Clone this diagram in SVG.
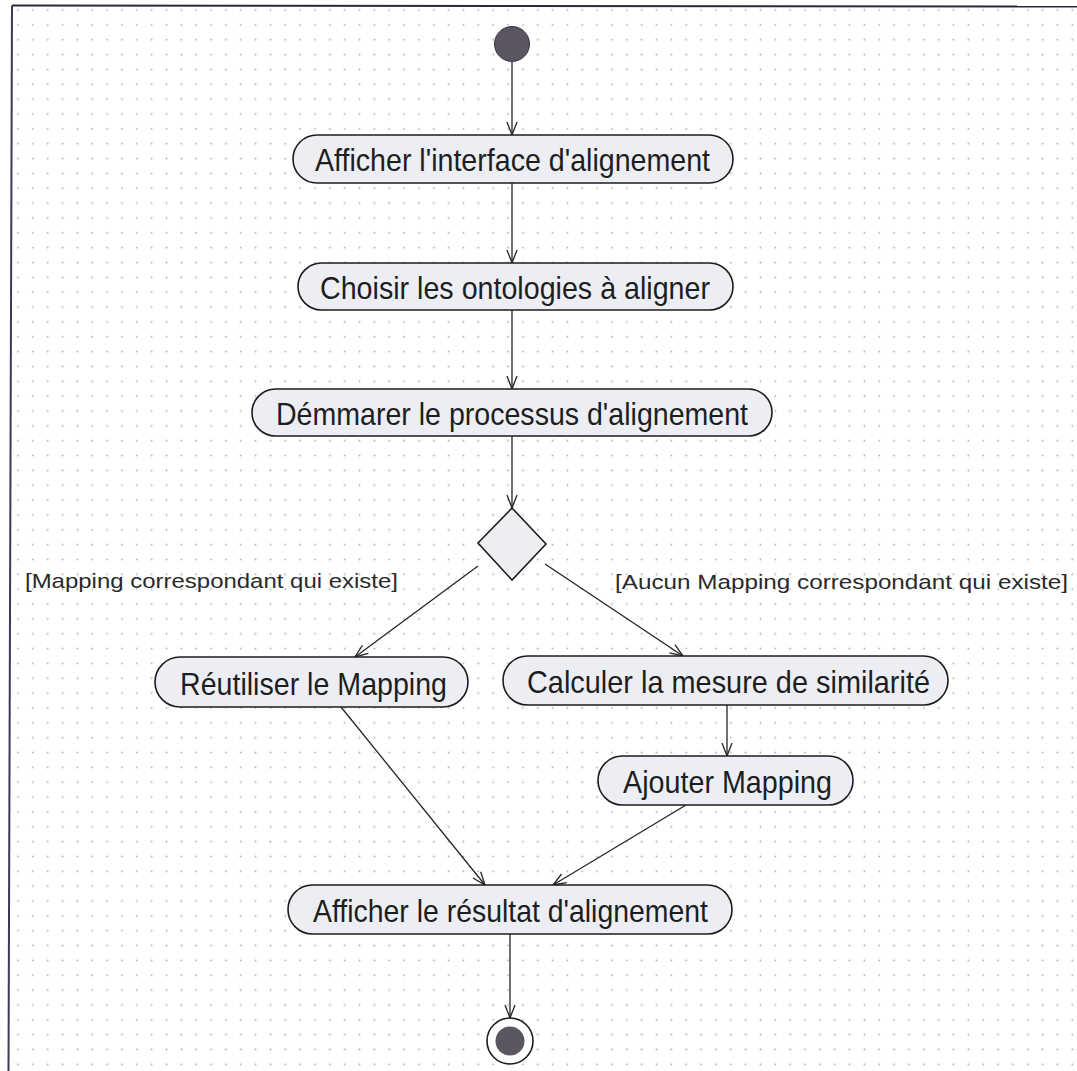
<svg xmlns="http://www.w3.org/2000/svg" width="1077" height="1071" viewBox="0 0 1077 1071">
  <defs>
    <pattern id="grid" patternUnits="userSpaceOnUse" x="10.6" y="2.6" width="14.85" height="14.85">
      <circle cx="7.4" cy="7.4" r="0.95" fill="#afafb8"/>
    </pattern>
    <marker id="open" viewBox="0 0 14 12" refX="13.5" refY="6" markerWidth="14" markerHeight="12" markerUnits="userSpaceOnUse" orient="auto">
      <path d="M0.5,1 L13.5,6 L0.5,11" fill="none" stroke="#2a2222" stroke-width="1.3"/>
    </marker>
    <style>
      .act { fill: #eceef4; stroke: #1c1c1c; stroke-width: 1.6; }
      .lbl { font-family: "Liberation Sans", Arial, sans-serif; font-size: 32px; fill: #1e1e1e; text-anchor: middle; }
      .guard { font-family: "Liberation Sans", Arial, sans-serif; font-size: 21px; fill: #2a2a2a; }
      .flow { fill: none; stroke: #2a2222; stroke-width: 1.3; marker-end: url(#open); }
    </style>
  </defs>

  <!-- canvas with dotted grid and frame -->
  <rect x="0" y="0" width="1077" height="1071" fill="#ffffff"/>
  <rect x="12" y="6" width="1065" height="1064" fill="url(#grid)"/>
  <line x1="12" y1="5.5" x2="1077" y2="6.5" stroke="#2a2a3a" stroke-width="2"/>
  <line x1="12" y1="5.5" x2="8.5" y2="1071" stroke="#3a3a5a" stroke-width="2"/>

  <!-- control flows -->
  <g id="connectors">
    <line class="flow" x1="512" y1="62" x2="512" y2="135"/>
    <line class="flow" x1="512" y1="183" x2="512" y2="263"/>
    <line class="flow" x1="512" y1="310" x2="512" y2="389"/>
    <line class="flow" x1="512" y1="436" x2="512" y2="508"/>
    <line class="flow" x1="478" y1="566" x2="355" y2="657"/>
    <line class="flow" x1="545" y1="564" x2="683" y2="656"/>
    <line class="flow" x1="727" y1="705" x2="727" y2="756"/>
    <line class="flow" x1="341" y1="707" x2="485" y2="885"/>
    <line class="flow" x1="686" y1="805" x2="553" y2="885"/>
    <line class="flow" x1="510" y1="934" x2="510" y2="1018"/>
  </g>

  <g id="start">
    <circle cx="512" cy="44" r="17.5" fill="#5a5560" stroke="#3a3540" stroke-width="1"/>
  </g>

  <g id="afficher-interface">
    <rect class="act" x="293" y="135" width="440" height="48" rx="24" ry="24"/>
    <text class="lbl" x="512.5" y="171" textLength="395" lengthAdjust="spacingAndGlyphs">Afficher l'interface d'alignement</text>
  </g>

  <g id="choisir-ontologies">
    <rect class="act" x="298" y="263" width="435" height="47" rx="23.5" ry="23.5"/>
    <text class="lbl" x="515" y="298.5" textLength="390" lengthAdjust="spacingAndGlyphs">Choisir les ontologies à aligner</text>
  </g>

  <g id="demarrer-processus">
    <rect class="act" x="252" y="389" width="520" height="47" rx="23.5" ry="23.5"/>
    <text class="lbl" x="512" y="424.5" textLength="472" lengthAdjust="spacingAndGlyphs">Démmarer le processus d'alignement</text>
  </g>

  <g id="decision">
    <polygon class="act" points="512,508 546,544 512,580 478,543"/>
  </g>

  <g id="guards">
    <text class="guard" x="25" y="588" textLength="373" lengthAdjust="spacingAndGlyphs">[Mapping correspondant qui existe]</text>
    <text class="guard" x="615" y="589" textLength="453" lengthAdjust="spacingAndGlyphs">[Aucun Mapping correspondant qui existe]</text>
  </g>

  <g id="reutiliser-mapping">
    <rect class="act" x="155" y="657" width="313" height="50" rx="25" ry="25"/>
    <text class="lbl" x="313.5" y="694.5" textLength="267" lengthAdjust="spacingAndGlyphs">Réutiliser le Mapping</text>
  </g>

  <g id="calculer-similarite">
    <rect class="act" x="503" y="656" width="445" height="49" rx="24.5" ry="24.5"/>
    <text class="lbl" x="728.5" y="693" textLength="403" lengthAdjust="spacingAndGlyphs">Calculer la mesure de similarité</text>
  </g>

  <g id="ajouter-mapping">
    <rect class="act" x="598" y="756" width="255" height="49" rx="24.5" ry="24.5"/>
    <text class="lbl" x="727.5" y="793" textLength="209" lengthAdjust="spacingAndGlyphs">Ajouter Mapping</text>
  </g>

  <g id="afficher-resultat">
    <rect class="act" x="288" y="885" width="444" height="49" rx="24.5" ry="24.5"/>
    <text class="lbl" x="510.5" y="922" textLength="395" lengthAdjust="spacingAndGlyphs">Afficher le résultat d'alignement</text>
  </g>

  <g id="end">
    <circle cx="510" cy="1041" r="23" fill="#ffffff" stroke="#1c1c1c" stroke-width="1.6"/>
    <circle cx="510" cy="1041" r="14.5" fill="#5a5560"/>
  </g>
</svg>
